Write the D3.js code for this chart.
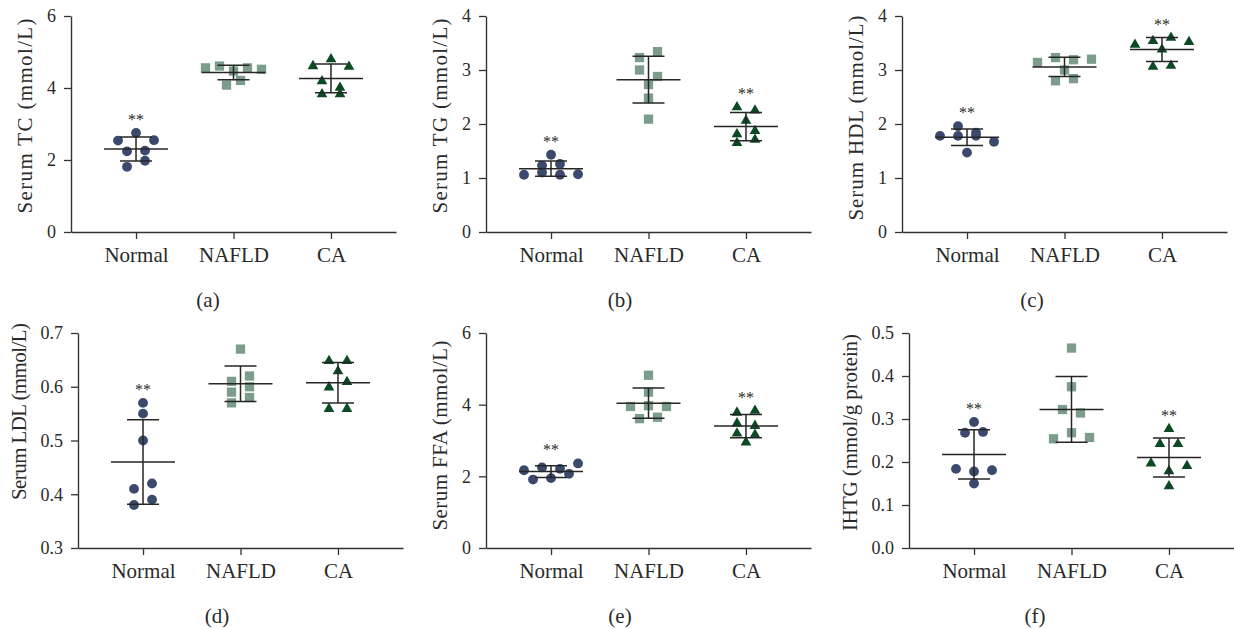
<!DOCTYPE html>
<html>
<head>
<meta charset="utf-8">
<script src="https://cdnjs.cloudflare.com/ajax/libs/d3/7.8.5/d3.min.js"></script>
<style>
  body { margin: 0; background: #fff; }
  svg text { font-family: "Liberation Serif", "Times New Roman", serif; fill: #2a2a2a; }
</style>
</head>
<body>
<svg width="1234" height="629"></svg>
<script>
var categories = ["Normal", "NAFLD", "CA"];
var panelLetters = ["(a)", "(b)", "(c)", "(d)", "(e)", "(f)"];
var yTitles = ["Serum TC (mmol/L)", "Serum TG (mmol/L)", "Serum HDL (mmol/L)",
               "Serum LDL (mmol/L)", "Serum FFA (mmol/L)", "IHTG (mmol/g protein)"];
var yDomains = [[0, 6], [0, 4], [0, 4], [0.3, 0.7], [0, 6], [0, 0.5]];
var yTicks = [[0, 2, 4, 6], [0, 1, 2, 3, 4], [0, 1, 2, 3, 4],
              [0.3, 0.4, 0.5, 0.6, 0.7], [0, 2, 4, 6], [0, 0.1, 0.2, 0.3, 0.4, 0.5]];
var tickFormats = ["d", "d", "d", ".1f", "d", ".1f"];

// values per group: Normal, NAFLD, CA
var tcValues  = [[2.54, 2.75, 2.55, 2.24, 2.26, 1.81, 1.98],
                 [4.56, 4.61, 4.47, 4.56, 4.52, 4.08, 4.21],
                 [4.61, 4.80, 4.59, 4.19, 4.01, 3.83, 3.83]];
var tgValues  = [[1.43, 1.23, 1.26, 1.06, 1.10, 1.06, 1.07],
                 [3.23, 3.34, 3.00, 2.88, 2.73, 2.48, 2.09],
                 [2.31, 2.25, 2.06, 1.81, 1.87, 1.65, 1.71]];
var hdlValues = [[1.96, 1.84, 1.78, 1.78, 1.78, 1.67, 1.47],
                 [3.14, 3.23, 3.19, 3.20, 3.00, 2.80, 2.84],
                 [3.47, 3.54, 3.60, 3.52, 3.38, 3.06, 3.08]];
var ldlValues = [[0.57, 0.55, 0.50, 0.41, 0.42, 0.38, 0.39],
                 [0.67, 0.61, 0.62, 0.59, 0.60, 0.57, 0.58],
                 [0.648, 0.648, 0.629, 0.599, 0.609, 0.559, 0.559]];
var ffaValues = [[2.17, 2.25, 2.21, 2.36, 1.91, 1.95, 2.07],
                 [4.82, 4.35, 3.95, 3.97, 3.95, 3.61, 3.65],
                 [3.78, 3.83, 3.48, 3.41, 3.20, 3.16, 2.95]];
var ihtgValues = [[0.293, 0.268, 0.270, 0.184, 0.178, 0.181, 0.150],
                  [0.465, 0.375, 0.322, 0.314, 0.254, 0.268, 0.257],
                  [0.277, 0.242, 0.242, 0.197, 0.179, 0.191, 0.144]];
var sigMarks = [["**", "", ""], ["**", "", "**"], ["**", "", "**"],
                ["**", "", ""], ["**", "", "**"], ["**", "", "**"]];

var allValues = [tcValues, tgValues, hdlValues, ldlValues, ffaValues, ihtgValues];

/* layout */
var frames = [
	{ x: 71,  top: 16,  bottom: 232, labelX: 208, titleShift: -8, titleLen: 195 },
	{ x: 486, top: 16,  bottom: 232, labelX: 620, titleShift: -8, titleLen: 195 },
	{ x: 902, top: 16,  bottom: 232, labelX: 1032, titleShift: -6, titleLen: 205 },
	{ x: 78,  top: 333, bottom: 548, labelX: 217, titleShift: -29, titleLen: 177 },
	{ x: 486, top: 333, bottom: 548, labelX: 620, titleShift: -5, titleLen: 190 },
	{ x: 909, top: 333, bottom: 548, labelX: 1035, titleShift: -8, titleLen: 197 }
];
var axisLen = 325;
var colors = ["#3b4a6c", "#7c9d8b", "#0b4a23"];
var shapes = [d3.symbolCircle, d3.symbolSquare, d3.symbolTriangle];
var shapeSizes = [76, 86, 50];
var lineColor = "#262626";
var serif = '"Liberation Serif", "Times New Roman", serif';

var svg = d3.select("svg");

// simple row-based scatter spreading (points within 8px share a row)
function spread(vals, y) {
	var idx = vals.map(function (v, i) { return i; })
		.sort(function (a, b) { return vals[b] - vals[a] || a - b; });
	var rows = [], cur = null;
	idx.forEach(function (i) {
		if (cur && y(vals[i]) - y(vals[cur[0]]) < 8) cur.push(i);
		else { cur = [i]; rows.push(cur); }
	});
	rows.forEach(function (r) { r.sort(function (a, b) { return a - b; }); });
	var nmax = d3.max(rows, function (r) { return r.length; });
	var step = nmax > 1 ? Math.min(18, 56 / (nmax - 1)) : 18;
	var off = [];
	rows.forEach(function (r) {
		r.forEach(function (i, k) { off[i] = (k - (r.length - 1) / 2) * step; });
	});
	return off;
}

frames.forEach(function (f, p) {
	var g = svg.append("g").attr("transform", "translate(" + f.x + ",0)");

	var x = d3.scalePoint().domain(categories).range([0, axisLen]).padding(0.667);
	var y = d3.scaleLinear().domain(yDomains[p]).range([f.bottom, f.top]);

	var yAxis = g.append("g").call(d3.axisLeft(y).tickValues(yTicks[p])
		.tickFormat(d3.format(tickFormats[p])).tickSize(7).tickSizeOuter(0).tickPadding(8));
	var xAxis = g.append("g").attr("transform", "translate(0," + f.bottom + ")")
		.call(d3.axisBottom(x).tickSize(7).tickSizeOuter(0).tickPadding(8));

	[yAxis, xAxis].forEach(function (a) {
		a.attr("font-family", serif);
		a.selectAll("path, line").attr("stroke", "#333").attr("stroke-width", 1.3);
		a.select(".domain").attr("stroke-width", 1.4);
	});
	yAxis.selectAll("text").style("font-size", "18px").style("font-family", serif).attr("fill", "#2a2a2a");
	xAxis.selectAll("text").style("font-size", "21px").style("font-family", serif).attr("fill", "#2a2a2a");

	var tickW = d3.max(yAxis.selectAll("text").nodes(), function (n) { return n.getBBox().width; });
	var titleX = -15 - tickW - 15;
	var midY = (f.top + f.bottom) / 2 + f.titleShift;
	g.append("text")
		.attr("transform", "translate(" + titleX + "," + midY + ") rotate(-90)")
		.attr("text-anchor", "middle")
		.attr("textLength", f.titleLen)
		.attr("lengthAdjust", "spacing")
		.style("font-size", "21px")
		.text(yTitles[p]);

	svg.append("text")
		.attr("x", f.labelX).attr("y", f.bottom + 75)
		.attr("text-anchor", "middle")
		.style("font-size", "21px")
		.text(panelLetters[p]);

	allValues[p].forEach(function (vals, gi) {
		var cx = x(categories[gi]);
		var off = spread(vals, y);

		g.append("g").selectAll("path").data(vals).enter().append("path")
			.attr("d", d3.symbol().type(shapes[gi]).size(shapeSizes[gi]))
			.attr("transform", function (d, i) { return "translate(" + (cx + off[i]) + "," + y(d) + ")"; })
			.attr("fill", colors[gi]);

		var m = d3.mean(vals), sd = d3.deviation(vals);
		var bars = g.append("g").attr("stroke", lineColor).attr("stroke-width", 1.5);
		bars.append("line").attr("x1", cx - 32).attr("x2", cx + 32).attr("y1", y(m)).attr("y2", y(m));
		bars.append("line").attr("x1", cx).attr("x2", cx).attr("y1", y(m + sd)).attr("y2", y(m - sd));
		[m + sd, m - sd].forEach(function (v) {
			bars.append("line").attr("x1", cx - 16).attr("x2", cx + 16).attr("y1", y(v)).attr("y2", y(v));
		});

		if (sigMarks[p][gi]) {
			g.append("text")
				.attr("x", cx).attr("y", y(d3.max(vals)) - 8)
				.attr("text-anchor", "middle")
				.style("font-size", "16px")
				.attr("fill", "#333")
				.text(sigMarks[p][gi]);
		}
	});
});
</script>
</body>
</html>
